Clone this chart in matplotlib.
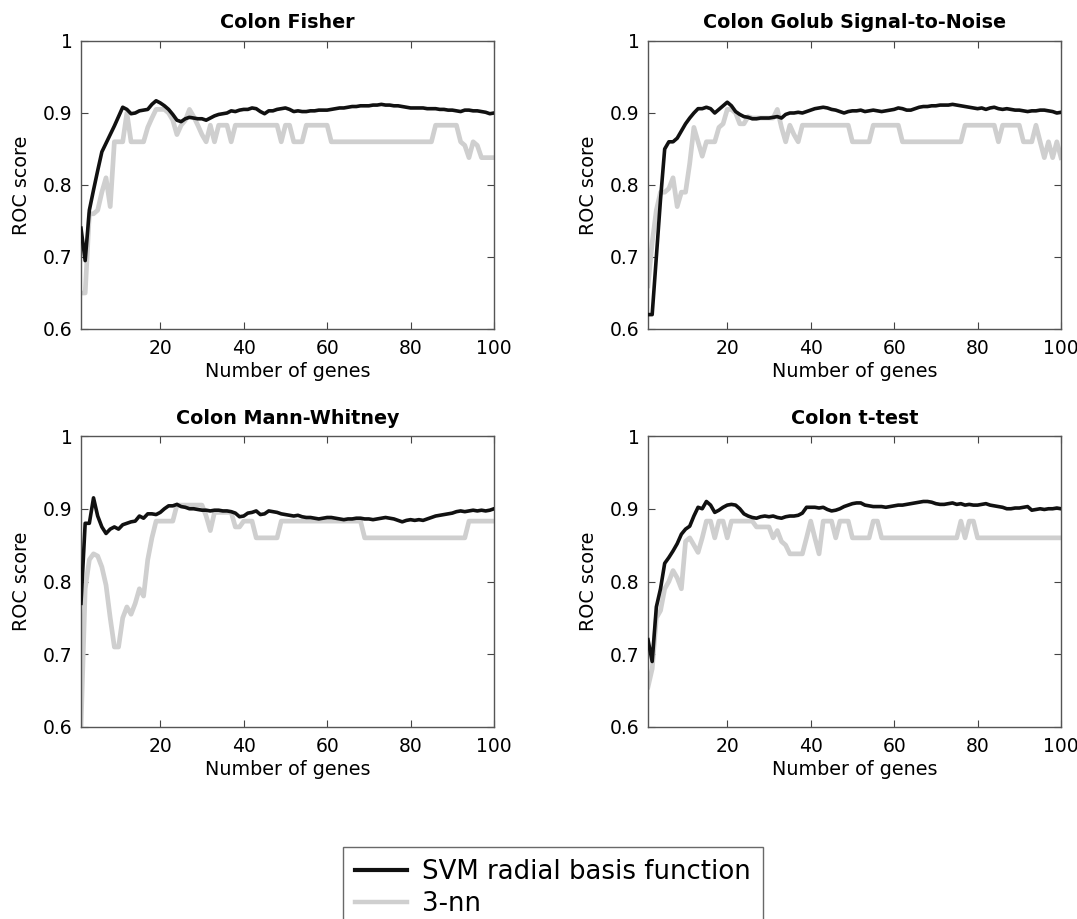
import numpy as np
import matplotlib
matplotlib.use("Agg")
import matplotlib.pyplot as plt

# the original is a stretched matlab figure, DejaVu's wide glyphs fit it best
plt.rcParams['font.family'] = ['DejaVu Sans']

# number of genes on the x axis
genes = list(range(1, 101))

titles = ["Colon Fisher", "Colon Golub Signal-to-Noise",
          "Colon Mann-Whitney", "Colon t-test"]
series_names = ["SVM radial basis function", "3-nn"]
y_ticks = [0.6, 0.7, 0.8, 0.9, 1.0]
y_tick_labels = ["0.6", "0.7", "0.8", "0.9", "1"]
x_ticks = [20, 40, 60, 80, 100]

# ---- Colon Fisher ----
fisher_svm = [0.74, 0.695, 0.765, 0.793, 0.82, 0.846, 0.858, 0.87, 0.882, 0.895,
              0.908, 0.905, 0.899, 0.9, 0.903, 0.904, 0.905, 0.912, 0.917, 0.914,
              0.91, 0.905, 0.898, 0.89, 0.888, 0.892, 0.894, 0.893, 0.892, 0.892,
              0.89, 0.893, 0.896, 0.898, 0.899, 0.9, 0.903, 0.902, 0.904, 0.905,
              0.905, 0.907, 0.906, 0.902, 0.899, 0.903, 0.903, 0.905, 0.906, 0.907,
              0.905, 0.902, 0.903, 0.902, 0.902, 0.903, 0.903, 0.904, 0.904, 0.904,
              0.905, 0.906, 0.907, 0.907, 0.908, 0.909, 0.909, 0.91, 0.91, 0.91,
              0.911, 0.911, 0.912, 0.911, 0.911, 0.91, 0.91, 0.909, 0.908, 0.907,
              0.907, 0.907, 0.907, 0.906, 0.906, 0.906, 0.905, 0.905, 0.904, 0.904,
              0.903, 0.902, 0.904, 0.904, 0.903, 0.903, 0.902, 0.901, 0.899, 0.9]
fisher_knn = [0.65, 0.65, 0.76, 0.76, 0.765, 0.79, 0.81, 0.77, 0.86, 0.86,
              0.86, 0.9, 0.86, 0.86, 0.86, 0.86, 0.88, 0.893, 0.905, 0.905,
              0.905, 0.9, 0.89, 0.87, 0.883, 0.89, 0.905, 0.895, 0.883, 0.87,
              0.86, 0.883, 0.86, 0.883, 0.883, 0.883, 0.86, 0.883, 0.883, 0.883,
              0.883, 0.883, 0.883, 0.883, 0.883, 0.883, 0.883, 0.883, 0.86, 0.883,
              0.883, 0.86, 0.86, 0.86, 0.883, 0.883, 0.883, 0.883, 0.883, 0.883,
              0.86, 0.86, 0.86, 0.86, 0.86, 0.86, 0.86, 0.86, 0.86, 0.86,
              0.86, 0.86, 0.86, 0.86, 0.86, 0.86, 0.86, 0.86, 0.86, 0.86,
              0.86, 0.86, 0.86, 0.86, 0.86, 0.883, 0.883, 0.883, 0.883, 0.883,
              0.883, 0.86, 0.855, 0.838, 0.86, 0.855, 0.838, 0.838, 0.838, 0.838]

# ---- Colon Golub Signal-to-Noise ----
golub_svm = [0.62, 0.62, 0.7, 0.78, 0.85, 0.86, 0.86, 0.865, 0.875, 0.885,
             0.893, 0.9, 0.906, 0.906, 0.908, 0.906, 0.9, 0.905, 0.91, 0.915,
             0.91, 0.902, 0.898, 0.895, 0.894, 0.892, 0.892, 0.893, 0.893, 0.893,
             0.894, 0.895, 0.893, 0.898, 0.9, 0.9, 0.901, 0.9, 0.902, 0.904,
             0.906, 0.907, 0.908, 0.907, 0.905, 0.904, 0.902, 0.9, 0.902, 0.903,
             0.903, 0.904, 0.902, 0.903, 0.904, 0.903, 0.902, 0.903, 0.904, 0.905,
             0.907, 0.906, 0.904, 0.904, 0.906, 0.908, 0.909, 0.909, 0.91, 0.91,
             0.911, 0.911, 0.911, 0.912, 0.911, 0.91, 0.909, 0.908, 0.907, 0.906,
             0.907, 0.905, 0.907, 0.908, 0.906, 0.905, 0.906, 0.905, 0.904, 0.904,
             0.903, 0.902, 0.903, 0.903, 0.904, 0.904, 0.903, 0.902, 0.9, 0.901]
golub_knn = [0.66, 0.72, 0.765, 0.79, 0.79, 0.795, 0.81, 0.77, 0.79, 0.79,
             0.83, 0.88, 0.86, 0.84, 0.86, 0.86, 0.86, 0.88, 0.885, 0.905,
             0.905, 0.9, 0.885, 0.885, 0.895, 0.893, 0.893, 0.893, 0.893, 0.893,
             0.893, 0.905, 0.88, 0.86, 0.883, 0.87, 0.86, 0.883, 0.883, 0.883,
             0.883, 0.883, 0.883, 0.883, 0.883, 0.883, 0.883, 0.883, 0.883, 0.86,
             0.86, 0.86, 0.86, 0.86, 0.883, 0.883, 0.883, 0.883, 0.883, 0.883,
             0.883, 0.86, 0.86, 0.86, 0.86, 0.86, 0.86, 0.86, 0.86, 0.86,
             0.86, 0.86, 0.86, 0.86, 0.86, 0.86, 0.883, 0.883, 0.883, 0.883,
             0.883, 0.883, 0.883, 0.883, 0.86, 0.883, 0.883, 0.883, 0.883, 0.883,
             0.86, 0.86, 0.86, 0.883, 0.86, 0.838, 0.86, 0.838, 0.86, 0.838]

# ---- Colon Mann-Whitney ----
mann_svm = [0.77, 0.88, 0.88, 0.915, 0.89, 0.875, 0.866, 0.872, 0.875, 0.872,
            0.878, 0.88, 0.882, 0.883, 0.89, 0.887, 0.893, 0.893, 0.892, 0.895,
            0.9, 0.904, 0.904, 0.906, 0.903, 0.902, 0.9, 0.9, 0.899, 0.898,
            0.898, 0.897, 0.898, 0.898, 0.897, 0.897, 0.896, 0.894, 0.889, 0.89,
            0.894, 0.895, 0.897, 0.892, 0.893, 0.897, 0.896, 0.895, 0.893, 0.892,
            0.891, 0.89, 0.891, 0.889, 0.888, 0.888, 0.887, 0.886, 0.887, 0.888,
            0.888, 0.887, 0.886, 0.885, 0.886, 0.886, 0.887, 0.887, 0.886, 0.886,
            0.885, 0.886, 0.887, 0.888, 0.887, 0.886, 0.884, 0.882, 0.884, 0.885,
            0.884, 0.885, 0.884, 0.886, 0.888, 0.89, 0.891, 0.892, 0.893, 0.894,
            0.896, 0.897, 0.896, 0.897, 0.898, 0.897, 0.898, 0.897, 0.898, 0.9]
mann_knn = [0.6, 0.79, 0.83, 0.838, 0.835, 0.82, 0.795, 0.75, 0.71, 0.71,
            0.75, 0.765, 0.755, 0.77, 0.79, 0.78, 0.83, 0.86, 0.883, 0.883,
            0.883, 0.883, 0.883, 0.905, 0.905, 0.905, 0.905, 0.905, 0.905, 0.905,
            0.89, 0.87, 0.895, 0.895, 0.895, 0.895, 0.895, 0.875, 0.875, 0.883,
            0.883, 0.883, 0.86, 0.86, 0.86, 0.86, 0.86, 0.86, 0.883, 0.883,
            0.883, 0.883, 0.883, 0.883, 0.883, 0.883, 0.883, 0.883, 0.883, 0.883,
            0.883, 0.883, 0.883, 0.883, 0.883, 0.883, 0.883, 0.883, 0.86, 0.86,
            0.86, 0.86, 0.86, 0.86, 0.86, 0.86, 0.86, 0.86, 0.86, 0.86,
            0.86, 0.86, 0.86, 0.86, 0.86, 0.86, 0.86, 0.86, 0.86, 0.86,
            0.86, 0.86, 0.86, 0.883, 0.883, 0.883, 0.883, 0.883, 0.883, 0.883]

# ---- Colon t-test ----
ttest_svm = [0.72, 0.69, 0.765, 0.79, 0.825, 0.833, 0.842, 0.852, 0.865, 0.872,
             0.876, 0.89, 0.902, 0.9, 0.91, 0.905, 0.895, 0.898, 0.902, 0.905,
             0.906, 0.905, 0.9, 0.893, 0.89, 0.888, 0.887, 0.889, 0.89, 0.889,
             0.89, 0.888, 0.887, 0.889, 0.89, 0.89, 0.891, 0.894, 0.902, 0.902,
             0.902, 0.901, 0.902, 0.899, 0.897, 0.898, 0.9, 0.903, 0.905, 0.907,
             0.908, 0.908, 0.905, 0.904, 0.903, 0.903, 0.903, 0.902, 0.903, 0.904,
             0.905, 0.905, 0.906, 0.907, 0.908, 0.909, 0.91, 0.91, 0.909, 0.907,
             0.906, 0.906, 0.907, 0.908, 0.906, 0.907, 0.905, 0.906, 0.905, 0.905,
             0.906, 0.907, 0.905, 0.904, 0.903, 0.902, 0.9, 0.9, 0.901, 0.901,
             0.902, 0.903, 0.898, 0.899, 0.9, 0.899, 0.9, 0.9, 0.901, 0.9]
ttest_knn = [0.655, 0.68, 0.75, 0.76, 0.79, 0.8, 0.815, 0.805, 0.79, 0.855,
             0.86, 0.85, 0.84, 0.86, 0.883, 0.883, 0.86, 0.883, 0.883, 0.86,
             0.883, 0.883, 0.883, 0.883, 0.883, 0.883, 0.875, 0.875, 0.875, 0.875,
             0.86, 0.87, 0.855, 0.85, 0.838, 0.838, 0.838, 0.838, 0.86, 0.883,
             0.86, 0.838, 0.883, 0.883, 0.883, 0.86, 0.883, 0.883, 0.883, 0.86,
             0.86, 0.86, 0.86, 0.86, 0.883, 0.883, 0.86, 0.86, 0.86, 0.86,
             0.86, 0.86, 0.86, 0.86, 0.86, 0.86, 0.86, 0.86, 0.86, 0.86,
             0.86, 0.86, 0.86, 0.86, 0.86, 0.883, 0.86, 0.883, 0.883, 0.86,
             0.86, 0.86, 0.86, 0.86, 0.86, 0.86, 0.86, 0.86, 0.86, 0.86,
             0.86, 0.86, 0.86, 0.86, 0.86, 0.86, 0.86, 0.86, 0.86, 0.86]

svm_all = [fisher_svm, golub_svm, mann_svm, ttest_svm]
knn_all = [fisher_knn, golub_knn, mann_knn, ttest_knn]

W, H = 1077, 919
fig = plt.figure(figsize=(W / 100, H / 100), dpi=100)

boxes = [(81, 41, 494, 329), (648, 41, 1061, 329),
         (81, 436, 494, 727), (648, 436, 1061, 727)]

axes = []
for i, (l, t, r, b) in enumerate(boxes):
    ax = fig.add_axes([l / W, 1 - b / H, (r - l) / W, (b - t) / H])
    ax.plot(genes, knn_all[i], color='#cfcfcf', lw=3.4, zorder=2)
    ax.plot(genes, svm_all[i], color='#111111', lw=2.6, zorder=3)
    ax.set_xlim(1, 100)
    ax.set_ylim(0.6, 1.0)
    ax.set_xticks(x_ticks)
    ax.set_yticks(y_ticks)
    ax.set_yticklabels(y_tick_labels)
    ax.tick_params(direction='in', top=True, right=True, length=5,
                   width=0.8, color='#444444', labelsize=13.5, pad=6)
    ax.tick_params(axis='x', pad=7)
    for s in ax.spines.values():
        s.set_color('#555555')
        s.set_linewidth(1.0)
    ax.set_title(titles[i], fontsize=13.8, fontweight='bold', pad=9)
    ax.set_xlabel("Number of genes", fontsize=13.8, labelpad=3)
    ax.set_ylabel("ROC score", fontsize=13.8, labelpad=9)
    axes.append(ax)

h1, = axes[0].plot([], [], color='#111111', lw=3.0)
h2, = axes[0].plot([], [], color='#cfcfcf', lw=3.2)
leg = fig.legend([h1, h2], series_names, loc='upper left',
                 bbox_to_anchor=(343 / W, 1 - 847 / H), fontsize=18.7,
                 frameon=True, fancybox=False, borderaxespad=0,
                 handlelength=2.0, handletextpad=0.6, labelspacing=0.25,
                 borderpad=0.45)
leg.get_frame().set_edgecolor('#444444')
leg.get_frame().set_linewidth(1.0)

fig.savefig("out.png", dpi=100)
